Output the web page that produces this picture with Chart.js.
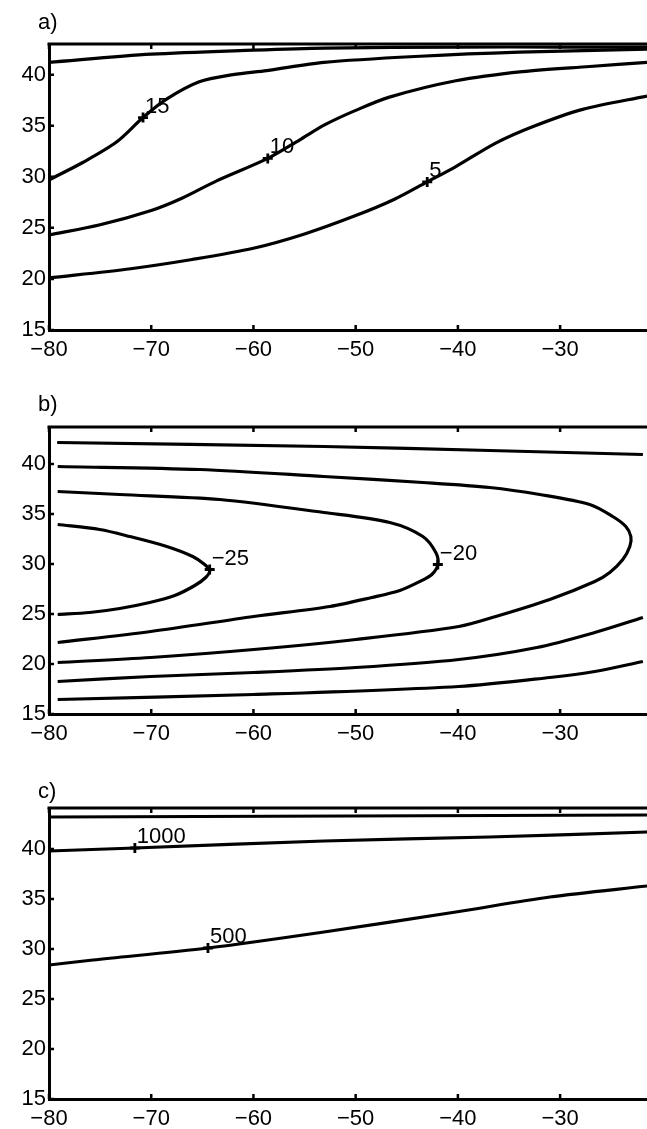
<!DOCTYPE html>
<html lang="en">
<head>
    <meta charset="UTF-8">
    <title>Contour panels a-c</title>
    <script src="https://cdn.jsdelivr.net/npm/chart.js@4"></script>
    <style>
        body { margin: 0; background: #fff; overflow: hidden; }
        canvas { position: absolute; left: 0; }
    </style>
</head>
<body>
    <canvas id="chartA" width="647" height="380" style="top:0"></canvas>
    <canvas id="chartB" width="647" height="380" style="top:380px"></canvas>
    <canvas id="chartC" width="647" height="369" style="top:760px"></canvas>

    <script>
        // axis ticks shared by all panels
        const xTicks = [-80, -70, -60, -50, -40, -30];
        const yTicks = [15, 20, 25, 30, 35, 40];

        // ---- panel a ----
        const aTopLon = [-80, -70, -60, -53, -40, -30, -21.5];
        const aTopLat = [41.2, 42.0, 42.4, 42.6, 42.7, 42.7, 42.7];
        const a15Lon = [-80, -76.7, -73.4, -70.8, -68.5, -65.3, -62.0, -58.7, -53.1, -43.7, -34.0, -21.5];
        const a15Lat = [29.7, 31.4, 33.4, 35.8, 37.6, 39.3, 40.0, 40.4, 41.2, 41.8, 42.2, 42.5];
        const a10Lon = [-80, -75, -70, -67, -63.6, -58.6, -55.5, -53, -50, -46.7, -40.2, -33.7, -27.1, -21.5];
        const a10Lat = [24.3, 25.3, 26.7, 27.9, 29.6, 31.8, 33.6, 35.1, 36.5, 37.8, 39.4, 40.3, 40.8, 41.2];
        const a5Lon = [-80, -72, -66, -60, -55, -50, -46.2, -43, -40.2, -36.3, -32.7, -27.8, -21.5];
        const a5Lat = [20.1, 21.0, 21.9, 23.0, 24.4, 26.2, 27.8, 29.5, 31.0, 33.3, 34.9, 36.6, 37.9];
        const aMarkLon = [-70.8, -58.6, -43.0];
        const aMarkLat = [35.8, 31.8, 29.5];
        const aLabels = ['15', '10', '5'];

        // ---- panel b ----
        const bTopLon = [-79.2, -53.1, -36.9, -21.9];
        const bTopLat = [42.15, 41.75, 41.35, 40.95];
        const bOuterLon = [-79.15, -65.25, -53.12, -43.43, -36.88, -31.99, -27.10, -24.85, -23.57, -23.08, -23.18, -23.87, -25.14, -26.61, -31.01, -36.29, -39.91, -49.99, -59.97, -70.05, -79.15];
        const bOuterLat = [39.75, 39.45, 38.75, 38.15, 37.65, 36.95, 35.95, 34.75, 33.75, 32.75, 31.75, 30.45, 29.15, 28.25, 26.45, 24.75, 23.75, 22.45, 21.45, 20.65, 20.15];
        const b20Lon = [-79.15, -73.08, -63.30, -53.12, -46.66, -43.43, -42.16, -41.96, -42.55, -43.72, -45.68, -48.42, -52.53, -59.97, -70.05, -79.15];
        const b20Lat = [37.25, 36.95, 36.45, 35.15, 34.15, 32.75, 31.15, 29.95, 28.95, 28.25, 27.35, 26.65, 25.75, 24.75, 23.25, 22.15];
        const b25Lon = [-79.15, -75.04, -72.10, -68.48, -65.94, -64.77, -64.28, -64.67, -65.74, -67.70, -70.15, -73.08, -76.02, -79.15];
        const b25Lat = [33.95, 33.45, 32.75, 31.75, 30.75, 29.95, 29.35, 28.65, 27.85, 26.85, 26.15, 25.55, 25.15, 24.95];
        const bLow1Lon = [-79.15, -70.05, -59.97, -49.99, -39.91, -32.27, -26.61, -21.9];
        const bLow1Lat = [18.25, 18.75, 19.15, 19.65, 20.45, 21.65, 23.15, 24.65];
        const bLow2Lon = [-79.15, -59.97, -39.91, -31.01, -26.61, -21.9];
        const bLow2Lat = [16.45, 16.95, 17.75, 18.65, 19.25, 20.25];
        const bMarkLon = [-64.28, -41.96];
        const bMarkLat = [29.45, 29.95];
        const bLabels = ['\u221225', '\u221220'];

        // ---- panel c ----
        const cTopLon = [-80, -21.5];
        const cTopLat = [43.2, 43.4];
        const c1000Lon = [-80, -71.6, -53.1, -36.9, -21.5];
        const c1000Lat = [39.8, 40.1, 40.8, 41.2, 41.7];
        const c500Lon = [-80, -75.7, -64.45, -53.1, -40.2, -31.0, -21.5];
        const c500Lat = [28.4, 28.9, 30.1, 31.7, 33.7, 35.2, 36.3];
        const cMarkLon = [-71.6, -64.45];
        const cMarkLat = [40.1, 30.1];
        const cLabels = ['1000', '500'];

        const FONT = '22px "Liberation Sans", Arial, sans-serif';
        Chart.defaults.font.family = '"Liberation Sans", Arial, sans-serif';
        Chart.defaults.font.size = 22;
        Chart.defaults.color = '#000';

        const pts = (lon, lat) => lon.map((x, i) => ({ x: x, y: lat[i] }));
        const minus = v => (v < 0 ? '\u2212' + (-v) : String(v));

        // frame top line, inward ticks, panel letter and contour labels
        const decor = {
            id: 'decor',
            afterDraw(chart, args, opts) {
                const { ctx, chartArea: ca, scales: { x, y } } = chart;
                ctx.save();
                ctx.strokeStyle = '#000';
                ctx.lineWidth = 3;
                ctx.beginPath();
                ctx.moveTo(ca.left - 1.5, ca.top);
                ctx.lineTo(ca.right, ca.top);
                ctx.stroke();

                ctx.lineWidth = 2.5;
                ctx.beginPath();
                xTicks.forEach(v => {
                    const px = x.getPixelForValue(v);
                    ctx.moveTo(px, ca.bottom);
                    ctx.lineTo(px, ca.bottom - 5);
                    ctx.moveTo(px, ca.top);
                    ctx.lineTo(px, ca.top + 5);
                });
                yTicks.forEach(v => {
                    const py = y.getPixelForValue(v);
                    ctx.moveTo(ca.left, py);
                    ctx.lineTo(ca.left + 5, py);
                });
                ctx.stroke();

                ctx.fillStyle = '#000';
                ctx.font = FONT;
                ctx.textAlign = 'left';
                ctx.textBaseline = 'alphabetic';
                ctx.fillText(opts.letter, ca.left - 11, ca.top - opts.gap);
                opts.labels.forEach((t, i) => {
                    ctx.fillText(t, x.getPixelForValue(opts.lon[i]) + 2, y.getPixelForValue(opts.lat[i]) - 5);
                });
                ctx.restore();
            }
        };

        function makePanel(id, p) {
            const lineSets = p.lines.map(l => ({
                data: l,
                showLine: true,
                borderColor: '#000',
                borderWidth: 3.2,
                pointRadius: 0,
                tension: 0.3,
                fill: false
            }));
            lineSets.push({
                data: pts(p.markLon, p.markLat),
                showLine: false,
                pointStyle: 'cross',
                pointRadius: 5,
                pointBorderWidth: 2.8,
                pointBorderColor: '#000'
            });
            return new Chart(document.getElementById(id), {
                type: 'scatter',
                data: { datasets: lineSets },
                options: {
                    responsive: false,
                    animation: false,
                    devicePixelRatio: 1,
                    layout: { autoPadding: false, padding: { top: p.top, left: 0, right: 0, bottom: 0 } },
                    plugins: {
                        legend: { display: false },
                        tooltip: { enabled: false },
                        decor: { letter: p.letter, gap: p.gap, labels: p.labels, lon: p.markLon, lat: p.markLat }
                    },
                    scales: {
                        x: {
                            type: 'linear',
                            min: -80,
                            max: -21.5,
                            afterBuildTicks: s => { s.ticks = xTicks.map(v => ({ value: v })); },
                            afterFit: s => {
                                s.height = p.bottomH;
                                s.paddingLeft = 0;
                                s.paddingRight = 0;
                            },
                            grid: { display: true, drawOnChartArea: false, drawTicks: false },
                            border: { display: true, width: 3, color: '#000' },
                            ticks: { padding: 7, maxRotation: 0, callback: minus }
                        },
                        y: {
                            type: 'linear',
                            min: 15,
                            max: p.yMax,
                            afterBuildTicks: s => { s.ticks = yTicks.map(v => ({ value: v })); },
                            afterFit: s => {
                                s.width = 49;
                                s.paddingTop = 0;
                                s.paddingBottom = 0;
                            },
                            grid: { display: true, drawOnChartArea: false, drawTicks: false },
                            border: { display: true, width: 3, color: '#000' },
                            ticks: { padding: 3 }
                        }
                    }
                },
                plugins: [decor]
            });
        }

        makePanel('chartA', {
            lines: [pts(aTopLon, aTopLat), pts(a15Lon, a15Lat), pts(a10Lon, a10Lat), pts(a5Lon, a5Lat)],
            markLon: aMarkLon, markLat: aMarkLat, labels: aLabels,
            letter: 'a)', gap: 15.5, top: 44, bottomH: 50, yMax: 43
        });
        makePanel('chartB', {
            lines: [pts(bTopLon, bTopLat), pts(bOuterLon, bOuterLat), pts(b20Lon, b20Lat), pts(b25Lon, b25Lat),
                    pts(bLow1Lon, bLow1Lat), pts(bLow2Lon, bLow2Lat)],
            markLon: bMarkLon, markLat: bMarkLat, labels: bLabels,
            letter: 'b)', gap: 16, top: 47, bottomH: 46, yMax: 43.7
        });
        makePanel('chartC', {
            lines: [pts(cTopLon, cTopLat), pts(c1000Lon, c1000Lat), pts(c500Lon, c500Lat)],
            markLon: cMarkLon, markLat: cMarkLat, labels: cLabels,
            letter: 'c)', gap: 10, top: 48, bottomH: 30, yMax: 44.1
        });
    </script>
</body>
</html>
